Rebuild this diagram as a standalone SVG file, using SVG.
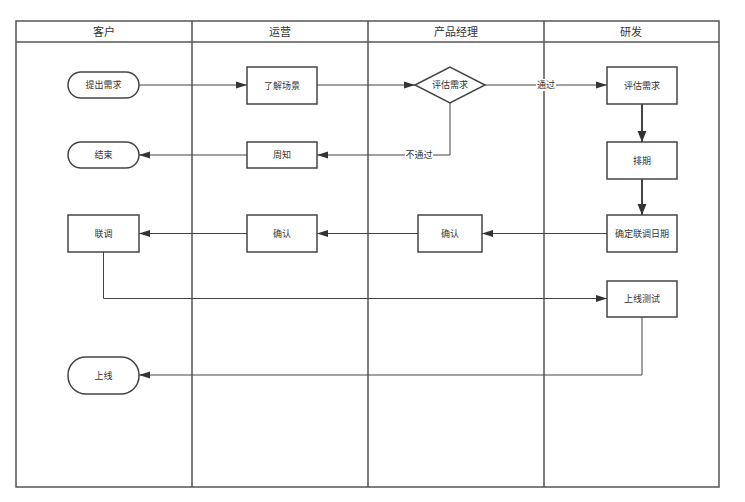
<svg xmlns="http://www.w3.org/2000/svg" width="745" height="502" viewBox="0 0 745 502">
<style>
.lane{fill:none;stroke:#555;stroke-width:1.5}
.box{fill:#fff;stroke:#444;stroke-width:1.5}
.t{font-family:"Liberation Sans","Noto Sans CJK SC",sans-serif;font-size:9px;fill:#333;text-anchor:middle;dominant-baseline:central}
.h{font-size:11px}
.c{fill:none;stroke:#444;stroke-width:1;marker-end:url(#a)}
.c2{fill:none;stroke:#444;stroke-width:2;marker-end:url(#a2)}
</style>
<defs>
<marker id="a" markerWidth="12" markerHeight="8" refX="11" refY="4" orient="auto" markerUnits="userSpaceOnUse"><path d="M0,0.5 L11,4 L0,7.5 Z" fill="#333"/></marker>
<marker id="a2" markerWidth="12" markerHeight="10" refX="11" refY="5" orient="auto" markerUnits="userSpaceOnUse"><path d="M0,0.5 L11,5 L0,9.5 Z" fill="#333"/></marker>
</defs>
<rect width="745" height="502" fill="#fff"/>
<g id="lanes">
<rect class="lane" x="16" y="21" width="703" height="466"/>
<line class="lane" x1="16" y1="42" x2="719" y2="42"/>
<line class="lane" x1="192" y1="21" x2="192" y2="487"/>
<line class="lane" x1="368" y1="21" x2="368" y2="487"/>
<line class="lane" x1="544" y1="21" x2="544" y2="487"/>
<text class="t h" x="104" y="32">客户</text>
<text class="t h" x="280" y="32">运营</text>
<text class="t h" x="456" y="32">产品经理</text>
<text class="t h" x="631" y="32">研发</text>
</g>
<g id="connectors">
<path class="c" d="M139,85 H247"/>
<path class="c" d="M317,85 H415"/>
<path class="c" d="M485,85 H607"/>
<path class="c" d="M450,103 V155 H317"/>
<path class="c" d="M247,155 H139"/>
<path class="c2" d="M642,104 V142"/>
<path class="c2" d="M642,179 V215"/>
<path class="c" d="M607,233.5 H482"/>
<path class="c" d="M418,233.5 H317"/>
<path class="c" d="M247,233.5 H139"/>
<path class="c" d="M103.5,252 V298.5 H607"/>
<path class="c" d="M642,317 V375 H139"/>
<rect x="536" y="79" width="20" height="12" fill="#fff"/>
<text class="t" x="546" y="85">通过</text>
<rect x="405" y="149" width="28" height="12" fill="#fff"/>
<text class="t" x="419" y="155">不通过</text>
</g>
<g id="n1"><rect class="box" x="68" y="72" width="71" height="26" rx="13"/><text class="t" x="103.5" y="85">提出需求</text></g>
<g id="n2"><rect class="box" x="247" y="67" width="70" height="37"/><text class="t" x="282" y="85.5">了解场景</text></g>
<g id="n3"><path class="box" d="M415,85 L450,67 L485,85 L450,103 Z"/><text class="t" x="450" y="85">评估需求</text></g>
<g id="n4"><rect class="box" x="607" y="67" width="70" height="37"/><text class="t" x="642" y="85.5">评估需求</text></g>
<g id="n5"><rect class="box" x="68" y="142" width="71" height="26" rx="13"/><text class="t" x="103.5" y="155">结束</text></g>
<g id="n6"><rect class="box" x="247" y="142" width="70" height="26"/><text class="t" x="282" y="155">周知</text></g>
<g id="n7"><rect class="box" x="607" y="142" width="70" height="37"/><text class="t" x="642" y="160.5">排期</text></g>
<g id="n8"><rect class="box" x="68" y="215" width="71" height="37"/><text class="t" x="103.5" y="233.5">联调</text></g>
<g id="n9"><rect class="box" x="247" y="215" width="70" height="37"/><text class="t" x="282" y="233.5">确认</text></g>
<g id="n10"><rect class="box" x="418" y="215" width="64" height="37"/><text class="t" x="450" y="233.5">确认</text></g>
<g id="n11"><rect class="box" x="607" y="215" width="70" height="37"/><text class="t" x="642" y="233.5">确定联调日期</text></g>
<g id="n12"><rect class="box" x="607" y="281" width="70" height="36"/><text class="t" x="642" y="299">上线测试</text></g>
<g id="n13"><rect class="box" x="68" y="357" width="71" height="37" rx="18"/><text class="t" x="103.5" y="375.5">上线</text></g>
</svg>
